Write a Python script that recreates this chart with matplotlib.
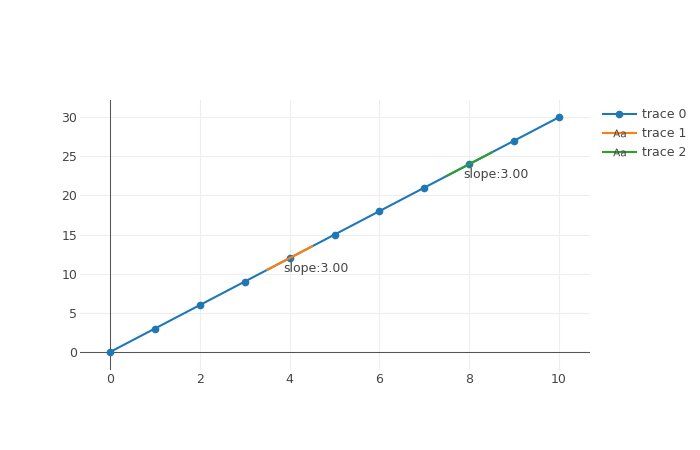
import numpy as np
import matplotlib.pyplot as plt
from matplotlib.lines import Line2D

# main trace
x0 = [0, 1, 2, 3, 4, 5, 6, 7, 8, 9, 10]
y0 = [0, 3, 6, 9, 12, 15, 18, 21, 24, 27, 30]

# tangent segments
x1 = [3.5, 4.0, 4.5]
y1 = [10.5, 12.0, 13.5]
x2 = [7.5, 8.0, 8.5]
y2 = [22.5, 24.0, 25.5]
labels = ["slope:3.00", "slope:3.00"]

xticks = [0, 2, 4, 6, 8, 10]
yticks = [0, 5, 10, 15, 20, 25, 30]

blue, orange, green = "#1f77b4", "#ff7f0e", "#2ca02c"
txt = "#444444"

plt.rcParams['font.family'] = ['DejaVu Sans']
plt.rcParams['mathtext.default'] = 'regular'

fig = plt.figure(figsize=(7, 4.5), dpi=100)
ax = fig.add_axes([80 / 700, 80 / 450, 510 / 700, 270 / 450])

ax.set_xlim(-0.67, 10.69)
ax.set_ylim(-2.3, 32.2)

ax.set_xticks(xticks)
ax.set_yticks(yticks)
ax.grid(color="#eeeeee", linewidth=0.8)
ax.set_axisbelow(True)
for s in ax.spines.values():
    s.set_visible(False)
ax.tick_params(length=0, labelsize=9, labelcolor=txt)
ax.tick_params(axis="y", pad=2)
ax.tick_params(axis="x", pad=2.5)

ax.axvline(0, color="#555555", linewidth=0.75, zorder=1)
ax.axhline(0, color="#555555", linewidth=0.75, zorder=1)

ax.plot(x0, y0, color=blue, linewidth=1.5, marker="o", markersize=4.5, zorder=3)
ax.plot(x1, y1, color=orange, linewidth=1.5, zorder=4)
ax.plot(x2, y2, color=green, linewidth=1.5, zorder=4)

for xs, ys, lab in [(x1, y1, labels[0]), (x2, y2, labels[1])]:
    ax.annotate(lab, (xs[-1], ys[-1]), xytext=(3, -11.5), textcoords="offset points",
                ha="center", va="top", fontsize=9, color=txt)

handles = [
    Line2D([], [], color=blue, linewidth=1.5, marker="o", markersize=4.5),
    Line2D([], [], color=orange, linewidth=1.5, marker="$Aa$", markersize=9,
           markerfacecolor=txt, markeredgewidth=0),
    Line2D([], [], color=green, linewidth=1.5, marker="$Aa$", markersize=9,
           markerfacecolor=txt, markeredgewidth=0),
]
fig.legend(handles, ["trace 0", "trace 1", "trace 2"], loc="upper left",
           bbox_to_anchor=(603 / 700, 1 - 108 / 450), frameon=False,
           fontsize=9, labelcolor=txt, handlelength=2.6, handletextpad=0.5,
           labelspacing=0.5, borderaxespad=0, borderpad=0)

fig.savefig("out.png", dpi=100)
